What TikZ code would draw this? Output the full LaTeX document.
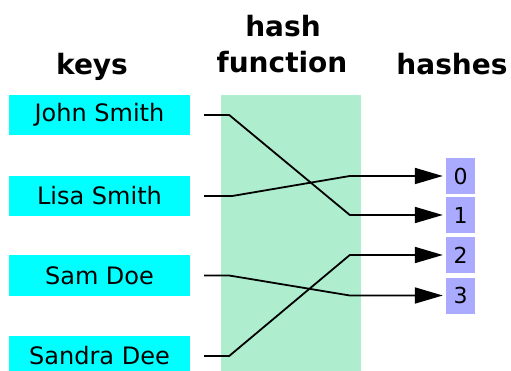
\documentclass[tikz,border=0pt]{standalone}
\usepackage{fontspec}
\setmainfont{DejaVu Sans}
\usepackage{xcolor}
\usepackage{tikz}
\usetikzlibrary{arrows.meta,positioning}
\definecolor{keyCyan}{HTML}{00FFFF}
\definecolor{funcGreen}{HTML}{AEEECE}
\definecolor{hashBlue}{HTML}{AAAAFF}

\begin{document}
\begin{tikzpicture}[x=1pt,y=-1pt,
  title/.style={font=\fontsize{28}{34}\selectfont\bfseries,anchor=base,inner sep=0pt},
  keybox/.style={fill=keyCyan,minimum width=181pt,minimum height=40pt,inner sep=0pt,font=\fontsize{24}{28}\selectfont},
  hashbox/.style={fill=hashBlue,minimum width=29pt,minimum height=36pt,inner sep=0pt,font=\fontsize{22}{26}\selectfont},
  link/.style={line width=1.8pt,-{Triangle[length=28pt,width=16pt]},shorten >=3pt}]
\useasboundingbox (0,0) rectangle (511,371);
% hash function area
\fill[funcGreen] (221,95) rectangle (361,380);
% headings
\node[title] (keyslbl) at (92,75) {keys};
\node[title] (hashlbl) at (283,37) {hash};
\node[title] (funclbl) at (282,73) {function};
\node[title] (hasheslbl) at (452,75) {hashes};
% keys
\foreach \n/\y/\t in {js/115/John Smith, ls/196/Lisa Smith, sd/275.5/Sam Doe, sde/356/Sandra Dee}
  \node[keybox] (\n) at (99.5,\y) {\t};
% hashes
\foreach \i/\y in {0/176, 1/215, 2/255, 3/295.5}
  \node[hashbox] (h\i) at (460.5,\y) {\i};
% connectors
\foreach \k/\h/\dx in {js/1/25, ls/0/28, sd/3/25, sde/2/25}
  \draw[link] ([xshift=14pt]\k.east) -- ++(\dx,0) -- ([xshift=-96pt]h\h.west) -- (h\h.west);
\end{tikzpicture}
\end{document}
